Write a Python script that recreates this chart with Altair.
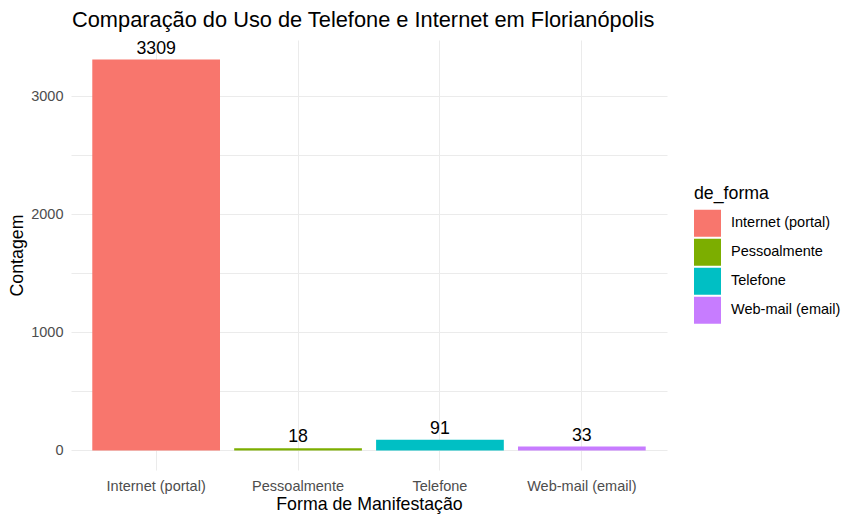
import altair as alt
import pandas as pd

categories = ["Internet (portal)", "Pessoalmente", "Telefone", "Web-mail (email)"]
counts = [3309, 18, 91, 33]
colors = ["#F8766D", "#7CAE00", "#00BFC4", "#C77CFF"]
y_ticks = [0, 500, 1000, 1500, 2000, 2500, 3000]

df = pd.DataFrame({"de_forma": categories, "Contagem": counts})

FONT = "Liberation Sans"
TICK = 14.5
LAB = 17.75
ymax = max(counts)
ydom = [-0.05 * ymax, ymax * 1.05]

x = alt.X(
    "de_forma:N",
    sort=categories,
    title="Forma de Manifestação",
    scale=alt.Scale(paddingInner=0.1, paddingOuter=0.15),
    axis=alt.Axis(
        labelAngle=0, labelFontSize=TICK, labelColor="#4D4D4D", labelFont=FONT,
        titleFontSize=LAB, titleFont=FONT, titleColor="black", titleFontWeight="normal",
        labelPadding=9, titlePadding=3, ticks=False, domain=False,
        grid=True, gridColor="#EBEBEB", gridWidth=1, bandPosition=0.5,
    ),
)

y_scale = alt.Scale(domain=ydom, nice=False, zero=False)

bars = alt.Chart(df).mark_bar().encode(
    x=x,
    y=alt.Y(
        "Contagem:Q",
        scale=y_scale,
        title="Contagem",
        axis=alt.Axis(
            values=y_ticks,
            labelExpr="datum.value % 1000 == 0 ? datum.label : ''",
            format="d",
            labelFontSize=TICK, labelColor="#4D4D4D", labelFont=FONT,
            titleFontSize=LAB, titleFont=FONT, titleColor="black", titleFontWeight="normal",
            labelPadding=8, titlePadding=4, ticks=False, domain=False,
            grid=True, gridColor="#EBEBEB", gridWidth=1,
        ),
    ),
    y2=alt.datum(0),
    color=alt.Color(
        "de_forma:N",
        sort=categories,
        scale=alt.Scale(domain=categories, range=colors),
        legend=alt.Legend(
            title="de_forma", orient="none", legendX=623, legendY=145,
            titleFontSize=LAB, titleFont=FONT, titleFontWeight="normal", titleColor="black",
            labelFontSize=TICK, labelFont=FONT, labelColor="black",
            symbolType="square", symbolSize=729, symbolStrokeWidth=0,
            symbolOpacity=1, rowPadding=2, labelOffset=10, titlePadding=7,
        ),
    ),
)

text = alt.Chart(df).mark_text(
    fontSize=LAB, font=FONT, color="black", baseline="alphabetic", dy=-6
).encode(
    x=alt.X("de_forma:N", sort=categories),
    y=alt.Y("Contagem:Q", scale=y_scale),
    text=alt.Text("Contagem:Q"),
)

chart = (
    alt.layer(bars, text)
    .properties(
        width=596,
        height=430,
        background="white",
        title=alt.TitleParams(
            "Comparação do Uso de Telefone e Internet em Florianópolis",
            anchor="start", frame="group", fontSize=21.8, font=FONT,
            fontWeight="normal", color="black", offset=8, dx=1,
        ),
        autosize=alt.AutoSizeParams(type="none"),
        padding={"left": 71, "top": 40, "right": 196, "bottom": 55},
    )
    .configure_view(stroke=None, strokeWidth=0)
)

chart.save("out.html", embed_options={"renderer": "svg", "actions": False})
